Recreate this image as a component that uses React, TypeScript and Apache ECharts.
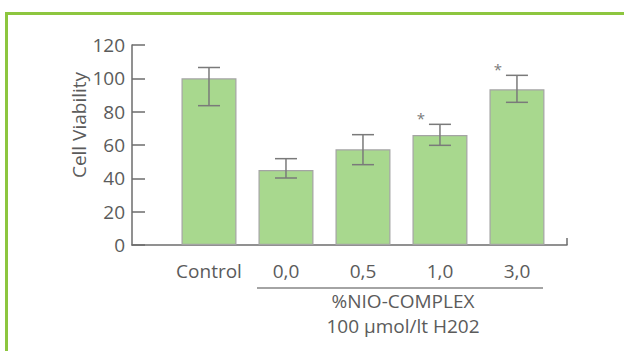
import React, { useEffect, useRef } from "react";
import * as echarts from "echarts";

const categories = ["Control", "0,0", "0,5", "1,0", "3,0"];
const positions = [1, 2, 3, 4, 5];
const values = [100, 45, 57.4, 66, 93.4];
const errHigh = [106.5, 51.8, 66.2, 72.4, 101.8];
const errLow = [83.6, 40.2, 48.2, 59.8, 85.6];
const significant = [false, false, false, true, true];
const yTicks = [0, 20, 40, 60, 80, 100, 120];
const yAxisTitle = "Cell Viability";
const groupTitle = "%NIO-COMPLEX";
const groupSubtitle = "100 µmol/lt H202";

const FONT = "'Open Sans', 'Noto Sans', sans-serif";
const TEXT = "#5b5b5b";
const AXIS = "#6d6d6d";
const FS = 19;

export default function App() {
  const ref = useRef<HTMLDivElement>(null);
  useEffect(() => {
    if (!ref.current) return;
    const chart = echarts.init(ref.current, null, { renderer: "svg" });
    const barData = positions.map((p, i) => [p, values[i]]);
    const errData = positions.map((p, i) => [p, errLow[i], errHigh[i]]);
    const starData = positions
      .map((p, i) => (significant[i] ? [p, errHigh[i]] : null))
      .filter((d) => d !== null);
    chart.setOption({
      animation: false,
      grid: { left: 132, top: 45, width: 435, height: 200, containLabel: false },
      xAxis: {
        type: "value",
        min: 0,
        max: 5.65,
        splitLine: { show: false },
        axisLine: { show: true, lineStyle: { color: AXIS, width: 1.5 } },
        axisTick: {
          show: true,
          inside: true,
          length: 7,
          customValues: [5.65],
          lineStyle: { color: AXIS, width: 1.5 },
        },
        axisLabel: {
          show: true,
          customValues: positions,
          formatter: (v: number) => {
            const idx = positions.indexOf(Math.round(v));
            return idx >= 0 ? categories[idx] : "";
          },
          margin: 16,
          color: TEXT,
          fontSize: FS,
          fontFamily: FONT,
        },
      },
      yAxis: {
        type: "value",
        min: 0,
        max: 120,
        interval: 20,
        splitLine: { show: false },
        axisLine: { show: true, lineStyle: { color: AXIS, width: 1.5 } },
        axisTick: { show: true, inside: true, length: 13, lineStyle: { color: AXIS, width: 1.5 } },
        axisLabel: {
          margin: 7,
          color: TEXT,
          fontSize: FS,
          fontFamily: FONT,
          formatter: (v: number) => (yTicks.includes(v) ? String(v) : ""),
        },
      },
      series: [
        {
          type: "bar",
          data: barData,
          barWidth: 55,
          itemStyle: { color: "#a8d88e", borderColor: "#a4a4a4", borderWidth: 1.2 },
          z: 2,
        },
        {
          type: "custom",
          data: errData,
          z: 3,
          renderItem: (params: any, api: any) => {
            const x = api.value(0);
            const top = api.coord([x, api.value(2)]);
            const bot = api.coord([x, api.value(1)]);
            const hw = 11;
            const style = { stroke: "#7a7a7a", lineWidth: 1.5 };
            return {
              type: "group",
              children: [
                { type: "line", shape: { x1: top[0], y1: top[1], x2: bot[0], y2: bot[1] }, style },
                { type: "line", shape: { x1: top[0] - hw, y1: top[1], x2: top[0] + hw, y2: top[1] }, style },
                { type: "line", shape: { x1: bot[0] - hw, y1: bot[1], x2: bot[0] + hw, y2: bot[1] }, style },
              ],
            };
          },
        },
        {
          type: "custom",
          data: starData,
          z: 3,
          renderItem: (params: any, api: any) => {
            const p = api.coord([api.value(0), api.value(1)]);
            return {
              type: "text",
              x: p[0] - 19,
              y: p[1] - 6,
              style: {
                text: "*",
                fill: "#7a7a7a",
                font: `15px ${FONT}`,
                align: "center",
                verticalAlign: "middle",
              },
            };
          },
        },
      ],
      graphic: [
        { type: "line", shape: { x1: 5, y1: 13.5, x2: 624, y2: 13.5 }, style: { stroke: "#8dc63f", lineWidth: 3 } },
        { type: "line", shape: { x1: 6.5, y1: 12, x2: 6.5, y2: 351 }, style: { stroke: "#8dc63f", lineWidth: 3 } },
        { type: "line", shape: { x1: 257, y1: 288, x2: 543, y2: 288 }, style: { stroke: "#4a4a4a", lineWidth: 1.2 } },
        {
          type: "text",
          x: 79,
          y: 125,
          rotation: Math.PI / 2,
          style: { text: yAxisTitle, fill: TEXT, font: `${FS}px ${FONT}`, align: "center", verticalAlign: "middle" },
        },
        {
          type: "text",
          x: 403,
          y: 301,
          style: { text: groupTitle, fill: TEXT, font: `${FS}px ${FONT}`, align: "center", verticalAlign: "middle" },
        },
        {
          type: "text",
          x: 403,
          y: 326,
          style: { text: groupSubtitle, fill: TEXT, font: `${FS}px ${FONT}`, align: "center", verticalAlign: "middle" },
        },
      ],
    });
    return () => chart.dispose();
  }, []);
  return (
    <div
      ref={ref}
      style={{ position: "fixed", left: 0, top: 0, width: 624, height: 351, background: "#fff" }}
    />
  );
}
